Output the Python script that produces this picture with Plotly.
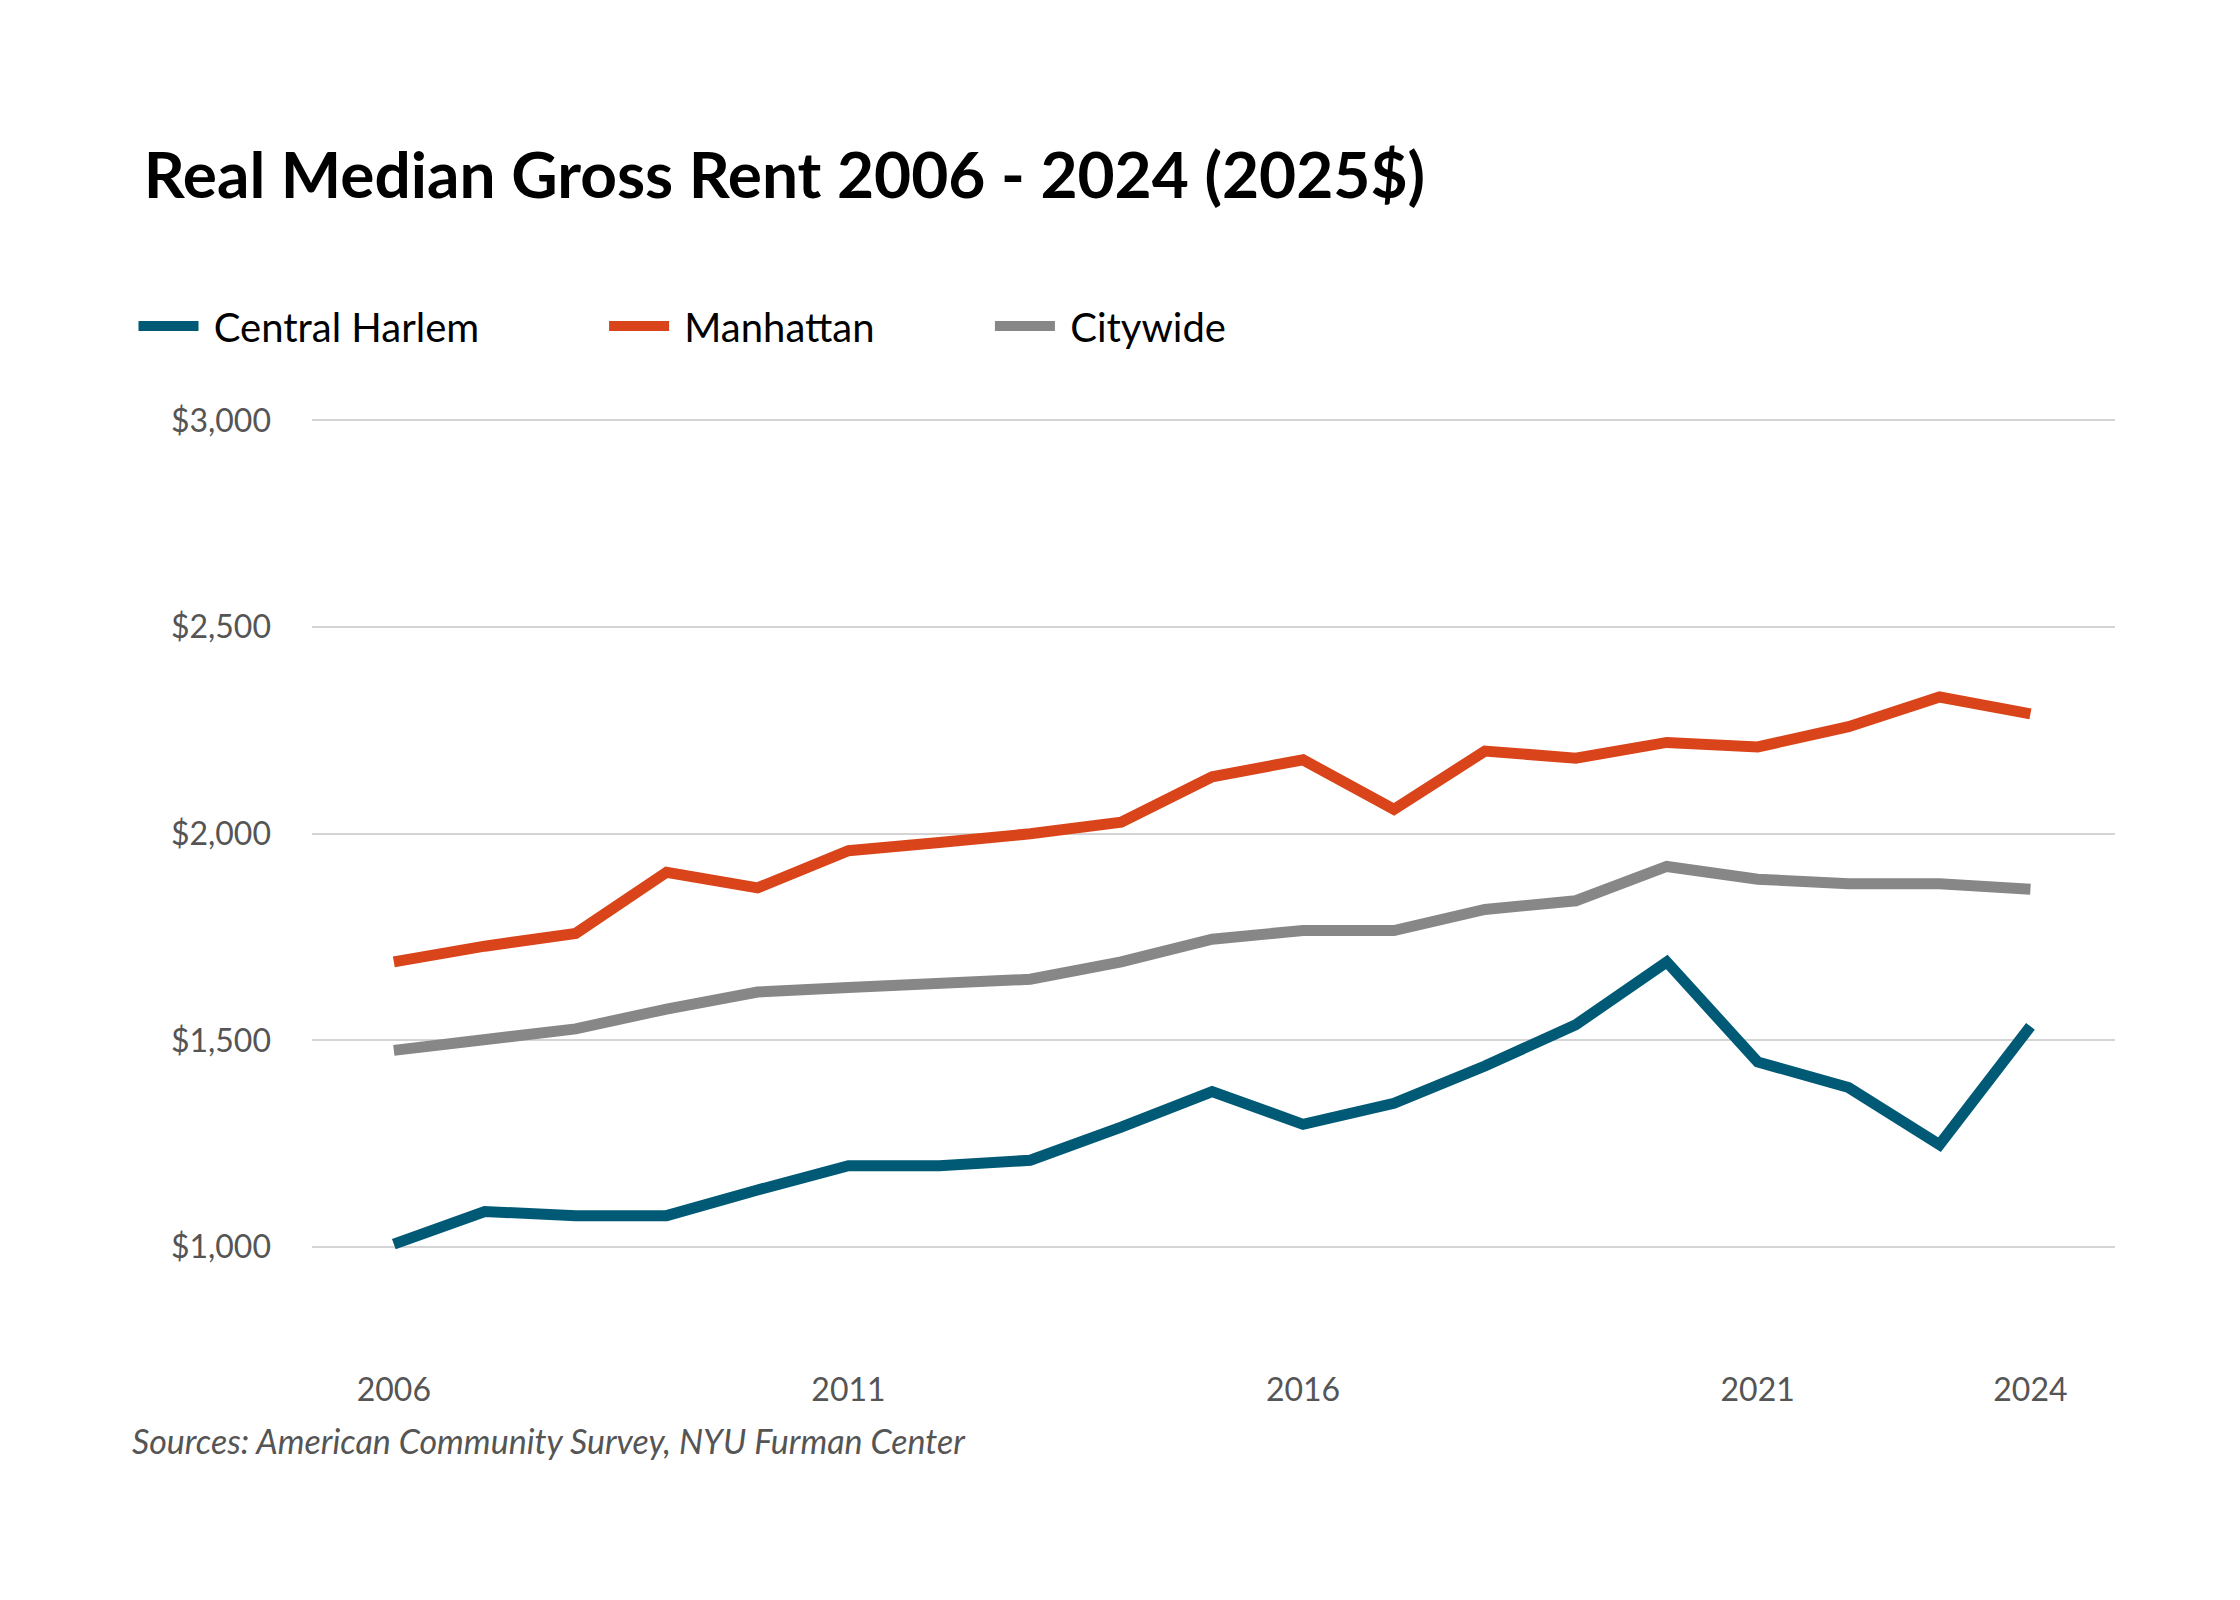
import plotly.graph_objects as go

years = list(range(2006, 2025))
central_harlem = [1007, 1086, 1076, 1076, 1138, 1197, 1197, 1210, 1290, 1376,
                  1297, 1348, 1438, 1538, 1690, 1448, 1386, 1248, 1534]
manhattan = [1690, 1728, 1759, 1907, 1869, 1959, 1979, 2000, 2028, 2138,
             2179, 2059, 2200, 2183, 2221, 2210, 2259, 2331, 2290]
citywide = [1476, 1500, 1528, 1576, 1617, 1628, 1638, 1648, 1690, 1745,
            1766, 1766, 1817, 1838, 1921, 1890, 1879, 1879, 1866]
x_ticks = [2006, 2011, 2016, 2021, 2024]
y_ticks = [1000, 1500, 2000, 2500, 3000]
y_labels = ['$1,000', '$1,500', '$2,000', '$2,500', '$3,000']

series = [('Central Harlem', central_harlem, '#005a75', 'legend', -0.099),
          ('Manhattan', manhattan, '#d9441a', 'legend2', 0.162),
          ('Citywide', citywide, '#878787', 'legend3', 0.376)]

fig = go.Figure()
legends = {}
for name, ys, color, leg, lx in series:
    fig.add_trace(go.Scatter(x=years, y=ys, name=' ' + name, mode='lines', legend=leg,
                             line=dict(color=color, width=11)))
    legends[leg] = dict(orientation='h', x=lx, xanchor='left', y=1.10, yanchor='middle',
                        font=dict(size=40, color='black', family='Lato'), itemwidth=60)

fig.update_layout(
    width=2240, height=1600, template='plotly_white',
    paper_bgcolor='white', plot_bgcolor='white',
    margin=dict(l=304, r=133, t=410, b=270),
    font=dict(family='Lato', color='#555555', size=30),
    title=dict(text='<b>Real Median Gross Rent 2006 - 2024 (2025$)</b>',
               x=0.0606, xref='container', xanchor='left', y=0.895, yref='container',
               yanchor='middle', font=dict(size=64, color='black', family='Lato')),
    xaxis=dict(range=[2005.1, 2024.93], tickvals=x_ticks, showgrid=False,
               zeroline=False, showline=False, ticks='', ticklabelstandoff=30,
               tickfont=dict(size=32, color='#555555')),
    yaxis=dict(range=[780, 3006], tickvals=y_ticks, ticktext=y_labels,
               gridcolor='#d4d4d4', gridwidth=2, zeroline=False, showline=False,
               ticks='', ticklabelstandoff=40, tickfont=dict(size=32, color='#555555')),
    showlegend=True,
    **legends,
)
fig.add_annotation(text='<i>Sources: American Community Survey, NYU Furman Center</i>',
                   xref='paper', yref='paper', x=-0.101, xanchor='left',
                   y=-0.111, yanchor='middle', showarrow=False,
                   font=dict(size=34, color='#555555', family='Lato'))

fig.write_html('out.html')
